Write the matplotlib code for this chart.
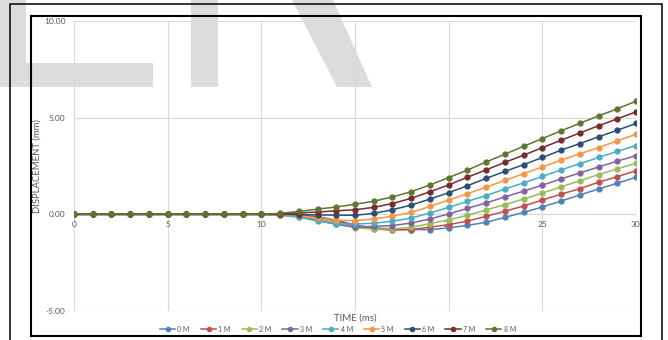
import matplotlib
matplotlib.use("Agg")
import matplotlib.pyplot as plt
from matplotlib.patches import Rectangle, Polygon

plt.rcParams['font.family'] = ['Lato', 'DejaVu Sans']

# time axis (ms)
time_ms = list(range(0, 31))

# displacement (mm) per mass
d_0m = [0, 0, 0, 0, 0, 0, 0, 0, 0, 0, 0,
        -0.01, -0.05, -0.12, -0.30, -0.55, -0.70, -0.75, -0.79, -0.79, -0.70,
        -0.57, -0.41, -0.16, 0.10, 0.38, 0.69, 1.00, 1.31, 1.61, 1.92]
d_1m = [0, 0, 0, 0, 0, 0, 0, 0, 0, 0, 0,
        -0.02, -0.06, -0.15, -0.35, -0.60, -0.75, -0.82, -0.79, -0.66, -0.53,
        -0.35, -0.10, 0.16, 0.43, 0.74, 1.04, 1.33, 1.66, 1.95, 2.25]
d_2m = [0, 0, 0, 0, 0, 0, 0, 0, 0, 0, 0,
        -0.02, -0.08, -0.20, -0.45, -0.70, -0.76, -0.76, -0.67, -0.48, -0.28,
        -0.05, 0.23, 0.50, 0.79, 1.10, 1.42, 1.73, 2.06, 2.35, 2.64]
d_3m = [0, 0, 0, 0, 0, 0, 0, 0, 0, 0, 0,
        -0.03, -0.12, -0.30, -0.52, -0.66, -0.62, -0.58, -0.45, -0.24, 0.02,
        0.31, 0.59, 0.90, 1.20, 1.51, 1.83, 2.14, 2.45, 2.75, 3.04]
d_4m = [0, 0, 0, 0, 0, 0, 0, 0, 0, 0, 0,
        -0.04, -0.15, -0.35, -0.50, -0.50, -0.46, -0.36, -0.19, 0.07, 0.36,
        0.67, 0.97, 1.31, 1.63, 1.96, 2.30, 2.62, 2.94, 3.26, 3.56]
d_5m = [0, 0, 0, 0, 0, 0, 0, 0, 0, 0, 0,
        -0.02, -0.08, -0.20, -0.30, -0.33, -0.24, -0.10, 0.10, 0.41, 0.74,
        1.07, 1.40, 1.76, 2.10, 2.45, 2.80, 3.13, 3.45, 3.80, 4.14]
d_6m = [0, 0, 0, 0, 0, 0, 0, 0, 0, 0, 0,
        0.00, -0.02, -0.03, -0.04, -0.05, 0.05, 0.24, 0.48, 0.79, 1.12,
        1.48, 1.86, 2.22, 2.57, 2.94, 3.32, 3.66, 4.01, 4.35, 4.70]
d_7m = [0, 0, 0, 0, 0, 0, 0, 0, 0, 0, 0,
        0.02, 0.07, 0.12, 0.18, 0.24, 0.36, 0.56, 0.83, 1.17, 1.52,
        1.92, 2.30, 2.69, 3.06, 3.45, 3.83, 4.21, 4.58, 4.94, 5.30]
d_8m = [0, 0, 0, 0, 0, 0, 0, 0, 0, 0, 0,
        0.05, 0.15, 0.27, 0.38, 0.52, 0.68, 0.90, 1.17, 1.52, 1.90,
        2.29, 2.71, 3.11, 3.52, 3.92, 4.32, 4.71, 5.09, 5.46, 5.85]

series = [d_0m, d_1m, d_2m, d_3m, d_4m, d_5m, d_6m, d_7m, d_8m]
labels = ['0 M', '1 M', '2 M', '3 M', '4 M', '5 M', '6 M', '7 M', '8 M']
colors = ['#4F81BD', '#C0504D', '#9BBB59', '#8064A2', '#4BACC6',
          '#F79646', '#2C4D75', '#772C2A', '#5F7530']

W, H = 668, 340
TXT = '#595959'


def fx(x):
    return x / W


def fy(y):
    return 1 - y / H


fig = plt.figure(figsize=(W / 100, H / 100), dpi=100)

# watermark letters in the background
wm = '#dcdcdc'
for pts in ([(0, 0), (26, 0), (26, 63), (153, 63), (153, 87), (0, 87)],
            [(191, 0), (218, 0), (218, 87), (191, 87)],
            [(292, 0), (333, 0), (372, 87), (337, 87)]):
    fig.add_artist(Polygon([(fx(x), fy(y)) for x, y in pts], closed=True,
                           transform=fig.transFigure, facecolor=wm,
                           edgecolor='none', zorder=0))

# frames
fig.add_artist(Rectangle((fx(10), fy(346)), fx(652), 342 / H, transform=fig.transFigure,
                         fill=False, edgecolor='black', linewidth=1.1, zorder=5))
fig.add_artist(Rectangle((fx(31), fy(336)), fx(610), 320 / H, transform=fig.transFigure,
                         fill=False, edgecolor='black', linewidth=1.5, zorder=5))

ax = fig.add_axes([fx(74), fy(311), fx(636 - 74), (311 - 21) / H])
ax.patch.set_alpha(0)

for vals, lab, col in zip(series, labels, colors):
    ax.plot(time_ms, vals, color=col, marker='o', markersize=3.5,
            linewidth=1.1, label=lab, zorder=3)

ax.set_xlim(0, 30)
ax.set_ylim(-5, 10)
ax.set_xticks([0, 5, 10, 15, 20, 25, 30])
ax.set_yticks([-5, 0, 5, 10])
ax.set_yticklabels(['-5.00', '0.00', '5.00', '10.00'])
ax.grid(True, color='#d9d9d9', linewidth=0.8, zorder=1)
ax.set_axisbelow(True)

for s in ['top', 'right', 'left']:
    ax.spines[s].set_visible(False)
ax.spines['bottom'].set_position(('data', 0))
ax.spines['bottom'].set_color('#d9d9d9')
ax.spines['bottom'].set_linewidth(0.8)

ax.tick_params(axis='x', length=0, pad=4.5, labelsize=6, labelcolor=TXT)
ax.tick_params(axis='y', length=0, pad=6, labelsize=6, labelcolor=TXT)

fig.text(fx(37), fy(166), 'DISPLACEMENT (mm)', rotation=90, ha='center',
         va='center', fontsize=6.8, color=TXT)
fig.text(fx(355), fy(318), 'TIME (ms)', ha='center', va='center',
         fontsize=7, color=TXT)

handles, labs = ax.get_legend_handles_labels()
leg = fig.legend(handles, labs, loc='center', bbox_to_anchor=(fx(338), fy(329)),
                 ncol=9, frameon=False, fontsize=5, handlelength=2.2,
                 handletextpad=0.3, columnspacing=1.6, markerscale=0.85,
                 borderaxespad=0, borderpad=0)
for t in leg.get_texts():
    t.set_color(TXT)

fig.savefig('out.png', dpi=100)
